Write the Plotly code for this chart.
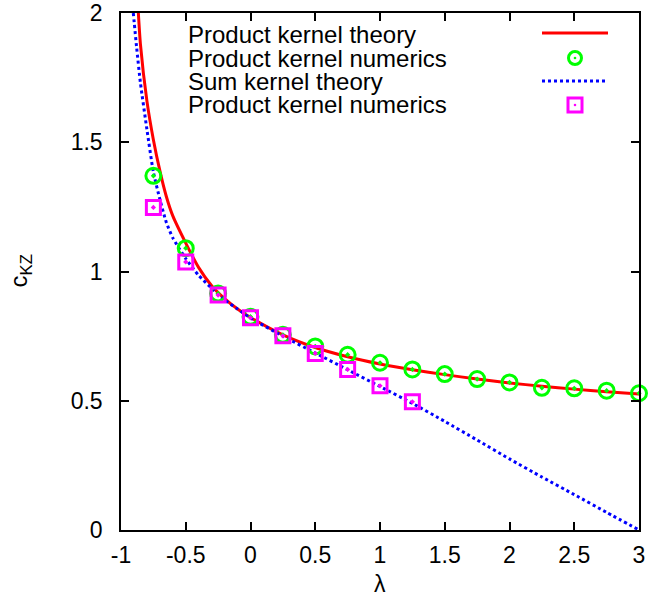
import plotly.graph_objects as go

# ---- data ----
lam_prod_theory = [-0.866, -0.85, -0.8, -0.75, -0.7, -0.65, -0.6, -0.5, -0.4, -0.3, -0.2, -0.1,
                   0.0, 0.25, 0.5, 0.75, 1.0, 1.25, 1.5, 1.75, 2.0, 2.25, 2.5, 2.75, 3.0]
c_prod_theory = [2.0, 1.88, 1.66, 1.51, 1.39, 1.29, 1.215, 1.11, 1.015, 0.945, 0.895, 0.855,
                 0.822, 0.755, 0.706, 0.670, 0.642, 0.620, 0.601, 0.584, 0.569, 0.556, 0.545, 0.535, 0.526]

lam_sum_theory = [-0.905, -0.88, -0.85, -0.8, -0.75, -0.7, -0.65, -0.6, -0.5, -0.4, -0.3, -0.2, -0.1,
                  0.0, 0.25, 0.5, 0.75, 1.0, 1.25, 1.5, 1.75, 2.0, 2.25, 2.5, 2.75, 3.0]
c_sum_theory = [2.0, 1.87, 1.73, 1.55, 1.385, 1.28, 1.19, 1.13, 1.05, 0.985, 0.935, 0.89, 0.855,
                0.82, 0.75, 0.685, 0.62, 0.555, 0.49, 0.42, 0.348, 0.275, 0.205, 0.137, 0.068, 0.0]

lam_prod_num = [-0.75, -0.5, -0.25, 0.0, 0.25, 0.5, 0.75, 1.0, 1.25, 1.5, 1.75, 2.0, 2.25, 2.5, 2.75, 3.0]
c_prod_num = [1.37, 1.09, 0.915, 0.825, 0.755, 0.71, 0.678, 0.647, 0.621, 0.603, 0.584, 0.571,
              0.55, 0.548, 0.539, 0.529]

lam_sum_num = [-0.75, -0.5, -0.25, 0.0, 0.25, 0.5, 0.75, 1.0, 1.25]
c_sum_num = [1.248, 1.037, 0.909, 0.821, 0.751, 0.683, 0.621, 0.558, 0.496]

legend_labels = ["Product kernel theory", "Product kernel numerics",
                 "Sum kernel theory", "Product kernel numerics"]

x_ticks = [-1, -0.5, 0, 0.5, 1, 1.5, 2, 2.5, 3]
x_ticktext = ["-1", "-0.5", "0", "0.5", "1", "1.5", "2", "2.5", "3"]
y_ticks = [0, 0.5, 1, 1.5, 2]
y_ticktext = ["0", "0.5", "1", "1.5", "2"]

RED = "#ff0000"
GREEN = "#00ff00"
BLUE = "#0000ff"
MAG = "#ff00ff"
FONT = "Liberation Sans"
FS = 23
FS_KEY = 24

fig = go.Figure()
fig.add_trace(go.Scatter(x=lam_prod_theory, y=c_prod_theory, mode="lines",
                         line=dict(color=RED, width=3, shape="spline", smoothing=0.6),
                         showlegend=False))
fig.add_trace(go.Scatter(x=lam_sum_theory, y=c_sum_theory, mode="lines",
                         line=dict(color=BLUE, width=3, dash="dot", shape="spline", smoothing=0.6),
                         showlegend=False))
fig.add_trace(go.Scatter(x=lam_prod_num, y=c_prod_num, mode="markers", cliponaxis=False,
                         marker=dict(symbol="circle-open-dot", size=15, color=GREEN,
                                     line=dict(color=GREEN, width=3)), showlegend=False))
fig.add_trace(go.Scatter(x=lam_sum_num, y=c_sum_num, mode="markers", cliponaxis=False,
                         marker=dict(symbol="square-open-dot", size=14, color=MAG,
                                     line=dict(color=MAG, width=3)), showlegend=False))

# ---- gnuplot-style key (text left, sample right) ----
PL, PR, PT, PB = 121, 639, 13, 530
def px(x):
    return (x - PL) / (PR - PL)
def py(y):
    return (PB - y) / (PB - PT)

key_y = [34, 58, 81, 105]
annotations = []
shapes = []
for lab, yy in zip(legend_labels, key_y):
    annotations.append(dict(x=px(186), y=py(yy), xref="paper", yref="paper", text=lab,
                            showarrow=False, xanchor="left", yanchor="middle",
                            font=dict(family=FONT, size=FS_KEY, color="black")))
# samples
shapes.append(dict(type="line", xref="paper", yref="paper", x0=px(542), x1=px(608),
                   y0=py(key_y[0] - 1), y1=py(key_y[0] - 1), line=dict(color=RED, width=3)))
shapes.append(dict(type="line", xref="paper", yref="paper", x0=px(542), x1=px(608),
                   y0=py(key_y[2]), y1=py(key_y[2]), line=dict(color=BLUE, width=3, dash="dot")))
cx = px(575)
shapes.append(dict(type="circle", xref="paper", yref="paper", xsizemode="pixel", ysizemode="pixel",
                   xanchor=cx, yanchor=py(key_y[1]), x0=-6.5, x1=6.5, y0=-6.5, y1=6.5,
                   line=dict(color=GREEN, width=3)))
shapes.append(dict(type="circle", xref="paper", yref="paper", xsizemode="pixel", ysizemode="pixel",
                   xanchor=cx, yanchor=py(key_y[1]), x0=-1.3, x1=1.3, y0=-1.3, y1=1.3,
                   fillcolor=GREEN, line=dict(width=0)))
shapes.append(dict(type="rect", xref="paper", yref="paper", xsizemode="pixel", ysizemode="pixel",
                   xanchor=cx, yanchor=py(key_y[3]), x0=-7, x1=7, y0=-7, y1=7,
                   line=dict(color=MAG, width=3)))
shapes.append(dict(type="circle", xref="paper", yref="paper", xsizemode="pixel", ysizemode="pixel",
                   xanchor=cx, yanchor=py(key_y[3]), x0=-1.3, x1=1.3, y0=-1.3, y1=1.3,
                   fillcolor=MAG, line=dict(width=0)))

# axis titles
annotations.append(dict(x=0.5, y=0, xref="paper", yref="paper", text="λ", showarrow=False,
                        xanchor="center", yanchor="middle", yshift=-54,
                        font=dict(family=FONT, size=FS, color="black")))
annotations.append(dict(x=0, y=0.5, xref="paper", yref="paper", text="c<sub>KZ</sub>",
                        showarrow=False, textangle=-90, xanchor="center", yanchor="middle",
                        xshift=-101, font=dict(family=FONT, size=FS + 1, color="black")))

axis_common = dict(showline=True, linecolor="black", linewidth=1.5, mirror="allticks",
                   ticks="inside", ticklen=8, tickwidth=1.5, tickcolor="black",
                   showgrid=False, zeroline=False,
                   tickfont=dict(family=FONT, size=FS, color="black"))

fig.update_layout(
    width=649, height=607,
    margin=dict(l=PL, r=649 - PR, t=PT, b=607 - PB, autoexpand=False),
    paper_bgcolor="white", plot_bgcolor="white",
    xaxis=dict(range=[-1, 3], tickvals=x_ticks, ticktext=x_ticktext, ticklabelstandoff=4,
               **axis_common),
    yaxis=dict(range=[0, 2], tickvals=y_ticks, ticktext=y_ticktext, ticklabelstandoff=12,
               **axis_common),
    annotations=annotations, shapes=shapes, showlegend=False,
)

fig.write_html("out.html", config={"displayModeBar": False},
               post_script="document.body.style.margin='0';document.body.style.overflow='hidden';")
